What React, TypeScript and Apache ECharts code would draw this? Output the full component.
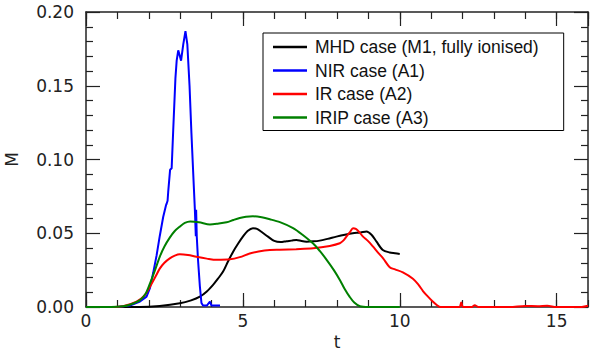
import React, { useEffect, useRef } from "react";
import * as echarts from "echarts";

const seriesNames = [
  "MHD case (M1, fully ionised)",
  "NIR case (A1)",
  "IR case (A2)",
  "IRIP case (A3)",
];
const seriesColors = ["#000000", "#0000ff", "#ff0000", "#008000"];
const seriesSmooth = [0.3, 0, 0.3, 0.3];

const xTickLabels = [0, 5, 10, 15];
const yTickLabels = [0, 0.05, 0.1, 0.15, 0.2];

const mhdData: [number, number][] = [
  [0, 0], [1.7, 0], [2.35, 0.0007], [2.99, 0.0025], [3.35, 0.0045], [3.63, 0.007],
  [3.85, 0.0105], [4.05, 0.015], [4.2, 0.019], [4.37, 0.024], [4.53, 0.031],
  [4.69, 0.0375], [4.85, 0.043], [5.0, 0.0477], [5.15, 0.0515], [5.32, 0.0534],
  [5.45, 0.053], [5.59, 0.051], [5.8, 0.0477], [6.0, 0.0448], [6.2, 0.044],
  [6.39, 0.0446], [6.55, 0.045], [6.71, 0.0455], [6.87, 0.0447], [7.03, 0.0443],
  [7.25, 0.0445], [7.45, 0.045], [7.7, 0.0462], [7.98, 0.0477], [8.25, 0.049],
  [8.5, 0.05], [8.75, 0.0505], [8.94, 0.0512], [9.1, 0.049], [9.26, 0.0443],
  [9.46, 0.0386], [9.68, 0.037], [9.85, 0.0365], [10.0, 0.036],
];

const nirData: [number, number][] = [
  [0, 0], [1.0, 0], [1.4, 0.001], [1.7, 0.0035], [1.93, 0.007], [2.04, 0.013],
  [2.14, 0.023], [2.25, 0.035], [2.35, 0.048], [2.46, 0.061], [2.55, 0.069],
  [2.57, 0.07], [2.6, 0.072], [2.62, 0.078], [2.68, 0.093], [2.73, 0.094],
  [2.78, 0.12], [2.85, 0.155], [2.89, 0.167], [2.94, 0.174], [2.98, 0.171],
  [3.03, 0.167], [3.1, 0.178], [3.17, 0.187], [3.23, 0.178], [3.3, 0.15],
  [3.36, 0.118], [3.44, 0.08], [3.47, 0.066], [3.5, 0.048], [3.51, 0.066],
  [3.53, 0.048], [3.57, 0.032], [3.63, 0.0138], [3.68, 0.0027], [3.73, 0.001],
  [3.85, 0.001], [3.95, 0.0036], [4.0, 0.001], [4.27, 0.001],
];

const irData: [number, number][] = [
  [0, 0], [0.8, 0], [1.18, 0.0005], [1.61, 0.0036], [1.85, 0.0075], [2.04, 0.0138],
  [2.2, 0.02], [2.35, 0.026], [2.5, 0.030], [2.67, 0.033], [2.83, 0.0348],
  [2.99, 0.0357], [3.25, 0.0352], [3.52, 0.034], [3.85, 0.0328], [4.16, 0.032],
  [4.59, 0.0323], [4.9, 0.0338], [5.22, 0.0363], [5.5, 0.0376], [5.86, 0.0386],
  [6.18, 0.0388], [6.7, 0.0392], [7.24, 0.0398], [7.77, 0.0414], [8.09, 0.0432],
  [8.2, 0.045], [8.3, 0.0477], [8.42, 0.051], [8.51, 0.0534], [8.6, 0.053],
  [8.7, 0.051], [8.83, 0.0477], [9.0, 0.0445], [9.15, 0.0409], [9.3, 0.037],
  [9.47, 0.033], [9.68, 0.027], [9.85, 0.0255], [10.1, 0.0235], [10.42, 0.0192],
  [10.6, 0.015], [10.74, 0.0108], [10.9, 0.007], [11.06, 0.0035], [11.2, 0.001],
  [11.3, 0], [11.9, 0], [11.96, 0.003], [12.02, 0], [12.3, 0], [12.39, 0.0012],
  [12.5, 0], [13.5, 0], [14.0, 0.0007], [14.4, 0.0005], [14.7, 0.0008], [15, 0],
  [15.8, 0], [16, 0.0008],
];

const iripData: [number, number][] = [
  [0, 0], [0.8, 0], [1.18, 0.0005], [1.4, 0.0015], [1.72, 0.0047], [1.9, 0.009],
  [2.04, 0.016], [2.2, 0.025], [2.35, 0.034], [2.5, 0.041], [2.67, 0.047],
  [2.83, 0.0515], [2.99, 0.0545], [3.15, 0.057], [3.32, 0.058], [3.6, 0.0575],
  [3.95, 0.056], [4.2, 0.0565], [4.48, 0.0574], [4.7, 0.059], [4.9, 0.0603],
  [5.1, 0.0612], [5.32, 0.0615], [5.6, 0.0608], [5.86, 0.0595], [6.18, 0.0575],
  [6.6, 0.0535], [6.9, 0.049], [7.24, 0.043], [7.45, 0.038], [7.67, 0.032],
  [7.9, 0.025], [8.1, 0.018], [8.25, 0.012], [8.4, 0.007], [8.55, 0.003],
  [8.73, 0.0005], [9, 0], [10, 0],
];

const allData = [mhdData, nirData, irData, iripData];

const AXIS_COLOR = "#222222";
const LABEL_FONT = "DejaVu Sans";

export default function App() {
  const ref = useRef<HTMLDivElement>(null);

  useEffect(() => {
    if (!ref.current) return;
    const chart = echarts.init(ref.current, undefined, { renderer: "svg" });
    const xMin = xTickLabels[0];
    const xMax = 16;
    const yMin = yTickLabels[0];
    const yMax = yTickLabels[yTickLabels.length - 1];

    const majorX = (position: "bottom" | "top", withLabels: boolean) => ({
      type: "value",
      position,
      min: xMin,
      max: xMax,
      interval: 5,
      name: withLabels ? "t" : "",
      nameLocation: "middle",
      nameGap: 22,
      nameTextStyle: { fontFamily: LABEL_FONT, fontSize: 17, color: AXIS_COLOR },
      axisLine: { show: true, onZero: false, lineStyle: { color: AXIS_COLOR, width: 1.5 } },
      axisTick: { show: true, inside: true, length: 14, lineStyle: { color: AXIS_COLOR, width: 1.2 } },
      axisLabel: {
        show: withLabels,
        showMaxLabel: false,
        margin: 5,
        fontFamily: LABEL_FONT,
        fontSize: 17,
        color: AXIS_COLOR,
        formatter: (v: number) => String(v),
      },
      splitLine: { show: false },
    });
    const minorX = (position: "bottom" | "top") => ({
      type: "value",
      position,
      min: xMin,
      max: xMax,
      interval: 1,
      axisLine: { show: false, onZero: false },
      axisTick: { show: true, inside: true, length: 7, lineStyle: { color: AXIS_COLOR, width: 1.2 } },
      axisLabel: { show: false },
      splitLine: { show: false },
    });
    const yAx = (position: "left" | "right", withLabels: boolean) => ({
      type: "value",
      position,
      min: yMin,
      max: yMax,
      interval: 0.05,
      name: withLabels ? "M" : "",
      nameLocation: "middle",
      nameGap: 66,
      nameRotate: 90,
      nameTextStyle: { fontFamily: LABEL_FONT, fontSize: 17, color: AXIS_COLOR },
      axisLine: { show: true, onZero: false, lineStyle: { color: AXIS_COLOR, width: 1.5 } },
      axisTick: { show: true, inside: true, length: 14, lineStyle: { color: AXIS_COLOR, width: 1.2 } },
      minorTick: { show: true, splitNumber: 5, length: 7, lineStyle: { color: AXIS_COLOR, width: 1.2 } },
      axisLabel: {
        show: withLabels,
        margin: 12,
        fontFamily: LABEL_FONT,
        fontSize: 17,
        color: AXIS_COLOR,
        formatter: (v: number) => v.toFixed(2),
      },
      splitLine: { show: false },
      minorSplitLine: { show: false },
    });

    chart.setOption({
      animation: false,
      backgroundColor: "#ffffff",
      grid: {
        left: 86,
        right: 10,
        top: 12,
        bottom: 47,
        containLabel: false,
        outerBoundsMode: "none",
      },
      xAxis: [majorX("bottom", true), minorX("bottom"), majorX("top", false), minorX("top")],
      yAxis: [yAx("left", true), yAx("right", false)],
      legend: {
        show: true,
        orient: "vertical",
        left: 263,
        top: 33,
        icon: "rect",
        itemWidth: 34,
        itemHeight: 2.5,
        itemGap: 5.5,
        padding: [5, 25, 4, 10],
        borderColor: "#000000",
        borderWidth: 1,
        backgroundColor: "#ffffff",
        borderRadius: 0,
        textStyle: {
          fontFamily: "Liberation Sans",
          fontSize: 17.5,
          lineHeight: 18,
          height: 18,
          color: "#111111",
          padding: [0, 0, 0, 3],
        },
        data: seriesNames,
      },
      series: allData.map((d, i) => ({
        name: seriesNames[i],
        type: "line",
        xAxisIndex: 0,
        yAxisIndex: 0,
        data: d,
        symbol: "none",
        smooth: seriesSmooth[i],
        lineStyle: { color: seriesColors[i], width: 2 },
        itemStyle: { color: seriesColors[i] },
        z: 2 + i,
      })),
    });
    return () => chart.dispose();
  }, []);

  return (
    <div
      ref={ref}
      style={{ width: 598, height: 354, position: "absolute", left: 0, top: 0 }}
    />
  );
}
